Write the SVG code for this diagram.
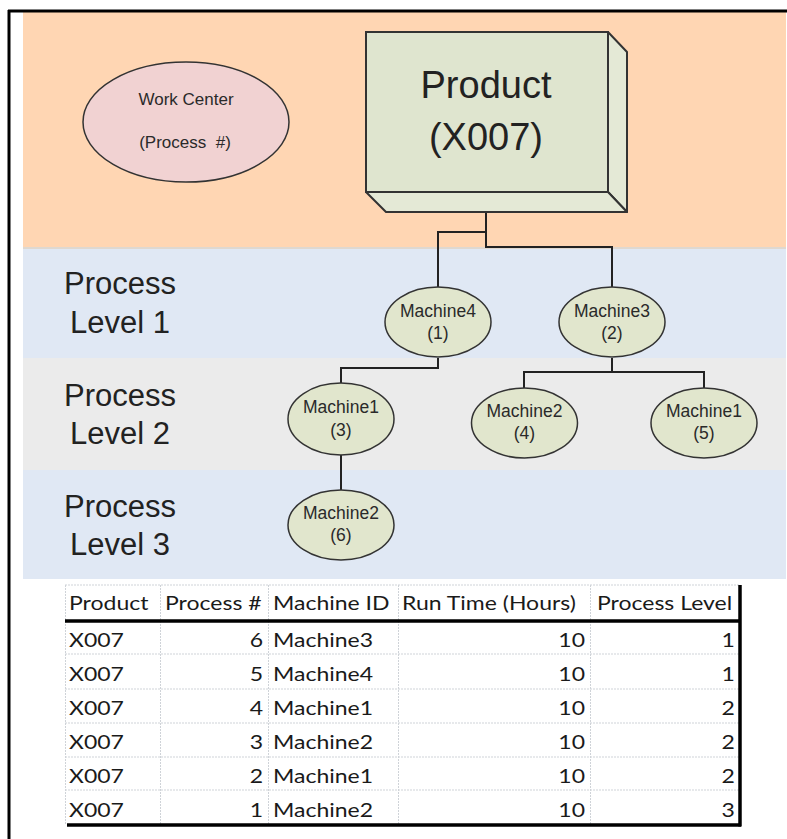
<svg xmlns="http://www.w3.org/2000/svg" width="787" height="839" viewBox="0 0 787 839">
<defs>
<style>
.lbl{font-family:"Liberation Sans",Arial,sans-serif;fill:#222}
.lvl{font-size:31px;text-anchor:middle}
.mach{font-family:"Liberation Sans",Arial,sans-serif;font-size:17.5px;fill:#2a2a2a;text-anchor:middle}
.ell{fill:#e1e6cd;stroke:#333;stroke-width:1.5}
.conn{fill:none;stroke:#222;stroke-width:2}
.tb{font-family:Lato,"Open Sans",sans-serif;font-size:20px;fill:#1a1a1a}
.r{text-anchor:end}
.grid{stroke:#cfd3d8;stroke-width:1;stroke-dasharray:2 1}
.thick{stroke:#000;stroke-width:3.5}
</style>
</defs>
<rect x="0" y="0" width="787" height="839" fill="#fff"/>
<!-- bands -->
<rect x="23" y="12" width="763" height="236" fill="#ffd6b3"/>
<rect x="23" y="248" width="763" height="110" fill="#e0e8f4"/>
<rect x="23" y="358" width="763" height="112" fill="#ebebeb"/>
<rect x="23" y="470" width="763" height="109" fill="#e0e8f4"/>
<line x1="23" y1="248" x2="786" y2="248" stroke="#dfd8d0" stroke-width="2"/>
<!-- frame -->
<line x1="8" y1="11" x2="787" y2="11" stroke="#000" stroke-width="3"/>
<line x1="9" y1="10" x2="9" y2="839" stroke="#000" stroke-width="3"/>

<g id="levels">
<text class="lbl lvl" x="120" y="294">Process</text>
<text class="lbl lvl" x="120" y="333">Level 1</text>
<text class="lbl lvl" x="120" y="406">Process</text>
<text class="lbl lvl" x="120" y="444">Level 2</text>
<text class="lbl lvl" x="120" y="517">Process</text>
<text class="lbl lvl" x="120" y="555">Level 3</text>
</g>

<g id="connectors">
<polyline class="conn" points="486,192 486,232 438,232 438,287"/>
<polyline class="conn" points="486,232 486,247 612,247 612,287"/>
<polyline class="conn" points="438,358 438,368 341,368 341,383"/>
<line class="conn" x1="341" y1="455" x2="341" y2="490"/>
<polyline class="conn" points="524,388 524,372 704,372 704,388"/>
<line class="conn" x1="612" y1="358" x2="612" y2="372"/>
</g>

<g id="work-center">
<ellipse cx="186" cy="122" rx="103" ry="60" fill="#f1d2d2" stroke="#333" stroke-width="1.5"/>
<text class="mach" x="186" y="105" style="font-size:17px">Work Center</text>
<text class="mach" x="185" y="148" style="font-size:17px;white-space:pre">(Process  #)</text>
</g>

<g id="product">
<polygon points="608,32 627,52 627,212 608,192" fill="#e4e9d6" stroke="#333" stroke-width="2" stroke-linejoin="round"/>
<polygon points="366,192 608,192 627,212 386,212" fill="#e4e9d6" stroke="#333" stroke-width="2" stroke-linejoin="round"/>
<rect x="366" y="32" width="242" height="160" fill="#dfe5cf" stroke="#333" stroke-width="2"/>
<text class="lbl" x="486" y="98" font-size="38" text-anchor="middle">Product</text>
<text class="lbl" x="486" y="150" font-size="38" text-anchor="middle">(X007)</text>
</g>

<g id="m4">
<ellipse class="ell" cx="438" cy="322" rx="53" ry="35"/>
<text class="mach" x="438" y="317">Machine4</text>
<text class="mach" x="438" y="339">(1)</text>
</g>
<g id="m3">
<ellipse class="ell" cx="612" cy="322" rx="53" ry="35"/>
<text class="mach" x="612" y="317">Machine3</text>
<text class="mach" x="612" y="339">(2)</text>
</g>
<g id="m1-3">
<ellipse class="ell" cx="341" cy="419" rx="53" ry="36"/>
<text class="mach" x="341" y="413">Machine1</text>
<text class="mach" x="341" y="436">(3)</text>
</g>
<g id="m2-4">
<ellipse class="ell" cx="524.5" cy="423" rx="53" ry="35"/>
<text class="mach" x="524.5" y="417">Machine2</text>
<text class="mach" x="524.5" y="439">(4)</text>
</g>
<g id="m1-5">
<ellipse class="ell" cx="704" cy="423" rx="53" ry="35"/>
<text class="mach" x="704" y="417">Machine1</text>
<text class="mach" x="704" y="439">(5)</text>
</g>
<g id="m2-6">
<ellipse class="ell" cx="341" cy="525" rx="53" ry="35"/>
<text class="mach" x="341" y="519">Machine2</text>
<text class="mach" x="341" y="541">(6)</text>
</g>

<g id="table">
<g class="grid">
<line x1="65" y1="585" x2="740" y2="585"/>
<line x1="65" y1="654" x2="740" y2="654"/>
<line x1="65" y1="689" x2="740" y2="689"/>
<line x1="65" y1="723" x2="740" y2="723"/>
<line x1="65" y1="757" x2="740" y2="757"/>
<line x1="65" y1="790" x2="740" y2="790"/>
<line x1="65.5" y1="585" x2="65.5" y2="825"/>
<line x1="160.5" y1="585" x2="160.5" y2="825"/>
<line x1="268.5" y1="585" x2="268.5" y2="825"/>
<line x1="398.5" y1="585" x2="398.5" y2="825"/>
<line x1="590.5" y1="585" x2="590.5" y2="825"/>
</g>
<line class="thick" x1="65" y1="621" x2="741" y2="621"/>
<line class="thick" x1="67" y1="825" x2="741" y2="825"/>
<line class="thick" x1="740" y1="585" x2="740" y2="826.5"/>
<g class="tb" transform="scale(1.15 1)">
<text x="60" y="610">Product</text>
<text x="143.5" y="610">Process #</text>
<text x="237.4" y="610">Machine ID</text>
<text x="349.6" y="610">Run Time (Hours)</text>
<text x="519.1" y="610">Process Level</text>
<text x="60" y="647">X007</text><text class="r" x="228.7" y="647">6</text><text x="237.4" y="647">Machine3</text><text class="r" x="508.7" y="647">10</text><text class="r" x="639.1" y="647">1</text>
<text x="60" y="681">X007</text><text class="r" x="228.7" y="681">5</text><text x="237.4" y="681">Machine4</text><text class="r" x="508.7" y="681">10</text><text class="r" x="639.1" y="681">1</text>
<text x="60" y="715">X007</text><text class="r" x="228.7" y="715">4</text><text x="237.4" y="715">Machine1</text><text class="r" x="508.7" y="715">10</text><text class="r" x="639.1" y="715">2</text>
<text x="60" y="749">X007</text><text class="r" x="228.7" y="749">3</text><text x="237.4" y="749">Machine2</text><text class="r" x="508.7" y="749">10</text><text class="r" x="639.1" y="749">2</text>
<text x="60" y="783">X007</text><text class="r" x="228.7" y="783">2</text><text x="237.4" y="783">Machine1</text><text class="r" x="508.7" y="783">10</text><text class="r" x="639.1" y="783">2</text>
<text x="60" y="817">X007</text><text class="r" x="228.7" y="817">1</text><text x="237.4" y="817">Machine2</text><text class="r" x="508.7" y="817">10</text><text class="r" x="639.1" y="817">3</text>
</g>
</g>
</svg>
